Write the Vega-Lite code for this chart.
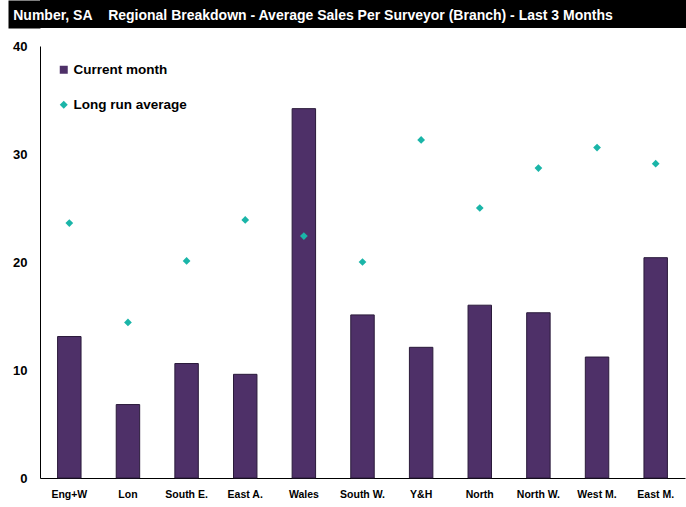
{
  "$schema": "https://vega.github.io/schema/vega-lite/v6.json",
  "padding": {"left": 8, "top": 0, "right": 0, "bottom": 0},
  "background": "white",
  "spacing": 12,
  "resolve": {
    "scale": {"color": "independent", "shape": "independent", "y": "independent"},
    "legend": {"color": "independent", "shape": "independent"}
  },
  "config": {
    "view": {"stroke": null},
    "font": "Liberation Sans"
  },
  "datasets": {
    "regions": [
      {"region": "Eng+W", "series": "Current month", "value": 13.1},
      {"region": "Lon", "series": "Current month", "value": 6.8},
      {"region": "South E.", "series": "Current month", "value": 10.6},
      {"region": "East A.", "series": "Current month", "value": 9.6},
      {"region": "Wales", "series": "Current month", "value": 34.2},
      {"region": "South W.", "series": "Current month", "value": 15.1},
      {"region": "Y&H", "series": "Current month", "value": 12.1},
      {"region": "North", "series": "Current month", "value": 16.0},
      {"region": "North W.", "series": "Current month", "value": 15.3},
      {"region": "West M.", "series": "Current month", "value": 11.2},
      {"region": "East M.", "series": "Current month", "value": 20.4},
      {"region": "Eng+W", "series": "Long run average", "value": 23.6},
      {"region": "Lon", "series": "Long run average", "value": 14.4},
      {"region": "South E.", "series": "Long run average", "value": 20.1},
      {"region": "East A.", "series": "Long run average", "value": 23.9},
      {"region": "Wales", "series": "Long run average", "value": 22.4},
      {"region": "South W.", "series": "Long run average", "value": 20.0},
      {"region": "Y&H", "series": "Long run average", "value": 31.3},
      {"region": "North", "series": "Long run average", "value": 25.0},
      {"region": "North W.", "series": "Long run average", "value": 28.7},
      {"region": "West M.", "series": "Long run average", "value": 30.6},
      {"region": "East M.", "series": "Long run average", "value": 29.1}
    ]
  },
  "vconcat": [
    {
      "width": 646,
      "height": 28,
      "view": {"fill": "black", "stroke": null},
      "data": {"values": [{"t": "Number, SA\u00a0\u00a0\u00a0\u00a0Regional Breakdown - Average Sales Per Surveyor (Branch) - Last 3 Months"}]},
      "mark": {"type": "text", "color": "white", "fontSize": 14, "fontWeight": "bold", "align": "center", "baseline": "middle", "dx": -50, "dy": 2},
      "encoding": {
        "text": {"field": "t"},
        "y": {
          "datum": 0.5,
          "type": "quantitative",
          "scale": {"domain": [0, 1]},
          "axis": {
            "title": null,
            "labels": false,
            "ticks": false,
            "grid": false,
            "domainColor": "black",
            "domainWidth": 32,
            "domainCap": "butt",
            "offset": 16,
            "minExtent": 0,
            "maxExtent": 0
          }
        }
      }
    },
    {
      "width": 645,
      "height": 432,
      "data": {"name": "regions"},
      "encoding": {
        "x": {
          "field": "region",
          "type": "nominal",
          "sort": null,
          "scale": {"paddingInner": 0.6, "paddingOuter": 0.3},
          "axis": {
            "title": null,
            "labelAngle": 0,
            "ticks": false,
            "domainColor": "black",
            "labelColor": "black",
            "labelFontSize": 10.5,
            "labelFontWeight": "bold",
            "labelPadding": 11
          }
        },
        "y": {
          "field": "value",
          "type": "quantitative",
          "scale": {"domain": [0, 40], "nice": false},
          "axis": {
            "title": null,
            "values": [0, 10, 20, 30, 40],
            "grid": false,
            "ticks": false,
            "domainColor": "black",
            "labelColor": "black",
            "labelFontSize": 13,
            "labelFontWeight": "bold",
            "labelPadding": 13,
            "minExtent": 32
          }
        }
      },
      "layer": [
        {
          "transform": [{"filter": "datum.series === 'Current month'"}],
          "mark": {"type": "bar", "color": "#4E3068", "stroke": "#2a1a3a", "strokeWidth": 1}
        },
        {
          "transform": [{"filter": "datum.series === 'Long run average'"}],
          "mark": {"type": "point", "filled": true, "size": 60, "opacity": 1},
          "encoding": {
            "color": {
              "field": "series",
              "type": "nominal",
              "scale": {"domain": ["Current month", "Long run average"], "range": ["#4E3068", "#1AB5A8"]},
              "legend": {
                "title": null,
                "orient": "top-left",
                "offset": 17,
                "labelFontSize": 13.5,
                "labelFontWeight": "bold",
                "labelColor": "black",
                "symbolSize": 64,
                "rowPadding": 20,
                "labelOffset": 3
              }
            },
            "shape": {
              "field": "series",
              "type": "nominal",
              "scale": {"domain": ["Current month", "Long run average"], "range": ["square", "diamond"]}
            }
          }
        }
      ]
    }
  ]
}
